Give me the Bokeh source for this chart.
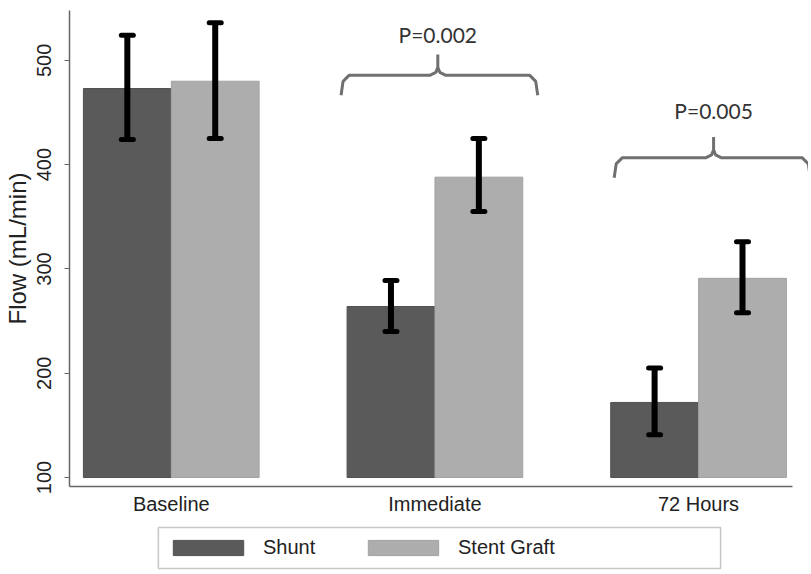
from bokeh.plotting import figure
from bokeh.layouts import column
from bokeh.models import (ColumnDataSource, FixedTicker, Whisker, TeeHead, Legend,
                          LegendItem, Range1d, BoxAnnotation)
from bokeh.embed import file_html
from bokeh.resources import INLINE
from bokeh.core.properties import value

# ---------------- data ----------------
groups = ["Baseline", "Immediate", "72 Hours"]
series = ["Shunt", "Stent Graft"]
shunt_mean = [473, 264, 172]
shunt_upper = [524, 289, 205]
shunt_lower = [424, 240, 141]
stent_mean = [480, 388, 291]
stent_upper = [536, 425, 326]
stent_lower = [425, 355, 258]
p_groups = [1, 2]                 # which groups carry a comparison bracket
p_labels = ["P=0.002", "P=0.005"]
y_ticks = [100, 200, 300, 400, 500]
bar_base = 100

# ---------------- layout constants ----------------
BAR_W = 0.333
DODGE = 0.1667
PX_X = 1 / 264.0     # data units per pixel (x)
PX_Y = 1 / 1.045     # data units per pixel (y)
DARK = "#5a5a5a"
LIGHT = "#adadad"
W = 808
LEFT = 68

p = figure(width=W, height=517,
           x_range=Range1d(-0.386, 2.417), y_range=Range1d(91.4, 547.8),
           output_backend="svg", toolbar_location=None,
           min_border_left=LEFT, min_border_right=0, min_border_top=10, min_border_bottom=0)
p.outline_line_color = None
p.grid.visible = False

xs = list(range(len(groups)))
src_shunt = ColumnDataSource(dict(x=[i - DODGE for i in xs], top=shunt_mean,
                                  upper=shunt_upper, lower=shunt_lower))
src_stent = ColumnDataSource(dict(x=[i + DODGE for i in xs], top=stent_mean,
                                  upper=stent_upper, lower=stent_lower))

p.vbar(x="x", top="top", bottom=bar_base, width=BAR_W, source=src_shunt,
       fill_color=DARK, line_color="#525252", line_width=1)
p.vbar(x="x", top="top", bottom=bar_base, width=BAR_W, source=src_stent,
       fill_color=LIGHT, line_color="#a2a2a2", line_width=1)

for src in (src_shunt, src_stent):
    w = Whisker(base="x", upper="upper", lower="lower", source=src, dimension="height",
                level="overlay", line_color="black", line_width=6,
                upper_head=TeeHead(size=12, line_color="black", line_width=5, line_cap="round"),
                lower_head=TeeHead(size=12, line_color="black", line_width=5, line_cap="round"))
    p.add_layout(w)

# ---------------- comparison braces ----------------
brace_spec = {1: dict(x0=-0.356, x1=0.39, xc=0.011, yh=485.6, lab=41),
              2: dict(x0=-0.32, x1=0.424, xc=0.057, yh=406.5, lab=47)}
bx, by, tx, ty = [], [], [], []
for g in p_groups:
    s = brace_spec[g]
    x0, x1, xc, yh = g + s["x0"], g + s["x1"], g + s["xc"], s["yh"]
    dxs = [x0, x0 + 2 * PX_X, x0 + 8 * PX_X, xc - 8 * PX_X, xc - 2 * PX_X, xc,
           xc, xc, xc + 2 * PX_X, xc + 8 * PX_X, x1 - 8 * PX_X, x1 - 2 * PX_X, x1]
    dys = [yh - 20 * PX_Y, yh - 6 * PX_Y, yh, yh, yh + 3 * PX_Y, yh + 8 * PX_Y,
           yh + 21 * PX_Y, yh + 8 * PX_Y, yh + 3 * PX_Y, yh, yh, yh - 6 * PX_Y, yh - 20 * PX_Y]
    bx.append(dxs)
    by.append(dys)
    tx.append(xc)
    ty.append(yh + s["lab"] * PX_Y)
p.multi_line(xs=bx, ys=by, line_color="#707070", line_width=3)
p.text(x=tx, y=ty, text=p_labels, text_align="center", text_baseline="middle",
       text_font=value("Lato"), text_font_size="21px", text_color="#333333")

# ---------------- axes ----------------
yax = p.yaxis[0]
yax.ticker = FixedTicker(ticks=y_ticks)
yax.axis_label = "Flow (mL/min)"
yax.axis_label_text_font = "Liberation Sans"
yax.axis_label_text_font_style = "normal"
yax.axis_label_text_font_size = "24px"
yax.axis_label_text_color = "#222222"
yax.axis_label_standoff = 4
yax.major_label_orientation = "vertical"
yax.major_label_text_font = "Liberation Sans"
yax.major_label_text_font_size = "20px"
yax.major_label_text_color = "#222222"
yax.major_label_standoff = 13
yax.major_tick_out = 5
yax.major_tick_in = 0
yax.minor_tick_line_color = None
yax.axis_line_color = "#666666"
yax.axis_line_width = 1.5
yax.major_tick_line_color = "#666666"

xax = p.xaxis[0]
xax.ticker = FixedTicker(ticks=xs)
xax.major_label_overrides = {i: g for i, g in zip(xs, groups)}
xax.major_label_text_font = "Liberation Sans"
xax.major_label_text_font_size = "20px"
xax.major_label_text_color = "#222222"
xax.major_label_standoff = 6
xax.major_tick_line_color = None
xax.major_tick_out = 0
xax.minor_tick_line_color = None
xax.axis_line_color = "#666666"
xax.axis_line_width = 1.5
xax.bounds = (-0.386, 2.356)

# ---------------- legend (own strip below the chart, 1 unit = 1 px) ----------------
LG_H = 54
lg = figure(width=W, height=LG_H, x_range=Range1d(0, W - LEFT), y_range=Range1d(0, LG_H),
            x_axis_type=None, y_axis_type=None,
            output_backend="svg", toolbar_location=None,
            min_border_left=LEFT, min_border_right=0, min_border_top=0, min_border_bottom=0)
lg.grid.visible = False
lg.outline_line_color = None
lg.add_layout(BoxAnnotation(left=89, right=652, bottom=3, top=44,
                            fill_color=None, line_color="#444444", line_width=1.5))
# key proxies placed far outside the strip's visible range; they only feed the legend swatches
k_shunt = lg.vbar(x=[-500], top=[-400], bottom=-500, width=1, fill_color=DARK, line_color="#525252")
k_stent = lg.vbar(x=[-500], top=[-400], bottom=-500, width=1, fill_color=LIGHT, line_color="#a2a2a2")
legend = Legend(items=[LegendItem(label=series[0], renderers=[k_shunt]),
                       LegendItem(label=series[1], renderers=[k_stent])],
                orientation="horizontal", location=(95, 12),
                glyph_width=88, glyph_height=19, label_standoff=11,
                label_width=60, spacing=36, padding=0, margin=0,
                border_line_color=None, background_fill_alpha=0,
                label_text_font="Liberation Sans", label_text_font_size="20px",
                label_text_color="#222222")
lg.add_layout(legend)

layout = column(p, lg, spacing=0)
open("out.html", "w").write(file_html(layout, INLINE))
